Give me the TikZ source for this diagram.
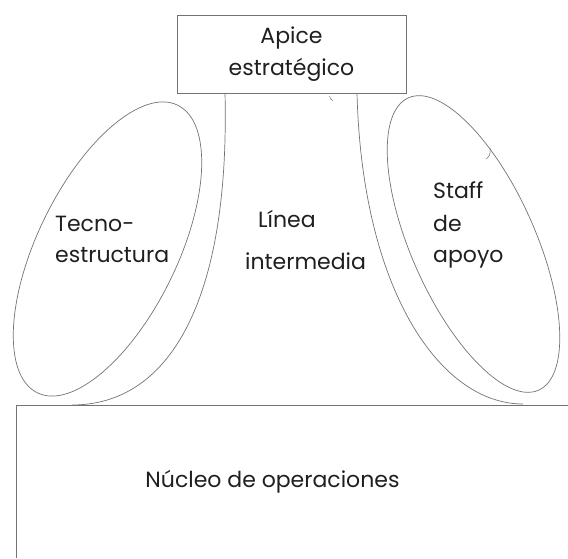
\documentclass[tikz,border=0pt]{standalone}
\usepackage{fontspec}
\setmainfont{Poppins}
\usetikzlibrary{shapes.geometric}
\begin{document}
\begin{tikzpicture}[x=1pt,y=1pt,
  ln/.style={draw=black!55, line width=0.7pt},
  txt/.style={font=\fontsize{22}{32}\selectfont, text=black!88, inner sep=0pt},
  oval/.style={ln, ellipse, inner sep=0pt}]
\useasboundingbox (0,0) rectangle (568,558);
% apex box
\node[ln, txt, minimum width=229pt, minimum height=78pt, align=center] (apex) at (291.5,504) {Apice\\estratégico};
% operating core (open box)
\coordinate (cr) at (568,153);
\coordinate (ctl) at (16,153);
\coordinate (cbl) at (16,0);
\draw[ln] (cr) -- (ctl) -- (cbl);
\node[txt, anchor=base] (core) at (272.5,71) {Núcleo de operaciones};
% ellipses
\node[oval, minimum width=320pt, minimum height=140pt, rotate=64] (tech) at (107.5,309) {};
\node[oval, minimum width=320pt, minimum height=124pt, rotate=-66] (staff) at (473.5,314) {};
% middle line curves
\coordinate (l1) at (225,465);
\coordinate (l2) at (72,153);
\coordinate (r1) at (357,465);
\coordinate (r2) at (523,154);
\draw[ln] (l1) .. controls (230,258) and (170,153) .. (l2);
\draw[ln] (r1) .. controls (362,268) and (440,154) .. (r2);
% small marks
\draw[ln, line width=0.5pt] (329.5,462) .. controls (330,459) and (331,458) .. (333,457.5);
\draw[ln, line width=0.5pt] (490,410) .. controls (491,404) and (489,401) .. (486,399);
% labels (base anchor = baseline of the last line)
\node[txt, align=left, anchor=base west] (techl) at (55,295) {Tecno-\\estructura};
\node[txt, align=left, anchor=base west, font=\fontsize{22}{41}\selectfont] (midl) at (245,289) {\hspace*{13pt}Línea\\intermedia};
\node[txt, align=left, anchor=base west] (staffl) at (433,295) {Staff\\de\\apoyo};
\end{tikzpicture}
\end{document}
